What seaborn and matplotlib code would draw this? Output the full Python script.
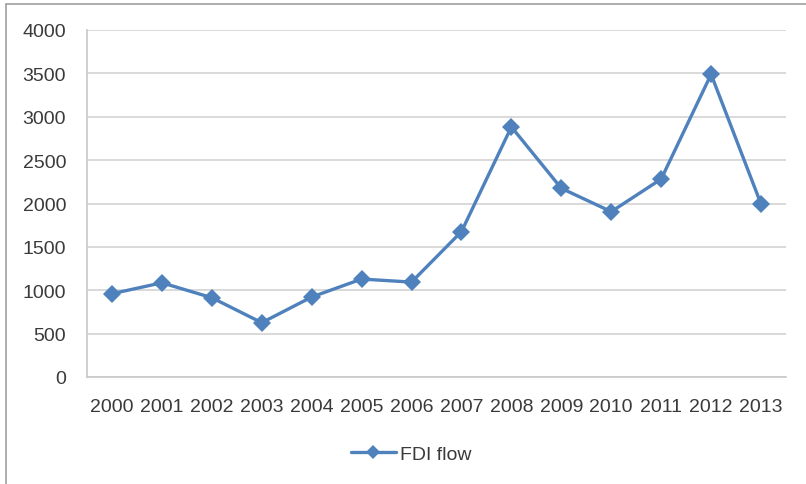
import pandas as pd
import seaborn as sns
import matplotlib.pyplot as plt
from matplotlib.lines import Line2D

# Data
years = ['2000', '2001', '2002', '2003', '2004', '2005', '2006',
         '2007', '2008', '2009', '2010', '2011', '2012', '2013']
fdi_flow = [960, 1086, 914, 626, 922, 1129, 1094,
            1676, 2883, 2175, 1906, 2282, 3489, 1994]
y_ticks = [0, 500, 1000, 1500, 2000, 2500, 3000, 3500, 4000]

df = pd.DataFrame({'year': years, 'FDI flow': fdi_flow})

sns.set_style('white')
plt.rcParams['font.family'] = ['Liberation Sans', 'DejaVu Sans']

blue = '#4F81BD'
grid_c = '#D9D9D9'
text_c = '#3A3A3A'

fig = plt.figure(figsize=(8.06, 4.85), dpi=100)
ax = fig.add_axes([87 / 806, 1 - 378 / 485, (786 - 87) / 806, (378 - 31) / 485])

sns.lineplot(data=df, x='year', y='FDI flow', ax=ax, color=blue,
             linewidth=2.4, marker='D', markersize=9, markeredgewidth=0,
             label='FDI flow', sort=False)

ax.set_xlim(-0.5, len(years) - 0.5)
ax.set_ylim(0, 4000)
ax.set_yticks(y_ticks)
ax.set_xlabel('')
ax.set_ylabel('')

ax.grid(axis='y', color=grid_c, linewidth=1.4)
ax.set_axisbelow(True)
for side in ['top', 'right']:
    ax.spines[side].set_visible(False)
for side in ['left', 'bottom']:
    ax.spines[side].set_color('#C8C8C8')
    ax.spines[side].set_linewidth(1.2)

ax.tick_params(axis='y', length=0, pad=15, labelsize=14, labelcolor=text_c)
ax.tick_params(axis='x', length=0, pad=15, labelsize=14, labelcolor=text_c)

handles, labels = ax.get_legend_handles_labels()
ax.get_legend().remove()
fig.legend(handles, labels, loc='center', bbox_to_anchor=(411 / 806, 1 - 455 / 485),
           frameon=False, fontsize=14, labelcolor=text_c, handlelength=2.3,
           handletextpad=0.2, markerscale=0.8)

# outer chart border (top and left only visible in the reference)
fig.add_artist(Line2D([6 / 806, 1], [1 - 5 / 485, 1 - 5 / 485],
                      transform=fig.transFigure, color='#A0A0A0', linewidth=1.2))
fig.add_artist(Line2D([6 / 806, 6 / 806], [0, 1 - 5 / 485],
                      transform=fig.transFigure, color='#A0A0A0', linewidth=1.2))

fig.savefig('out.png', dpi=100)
